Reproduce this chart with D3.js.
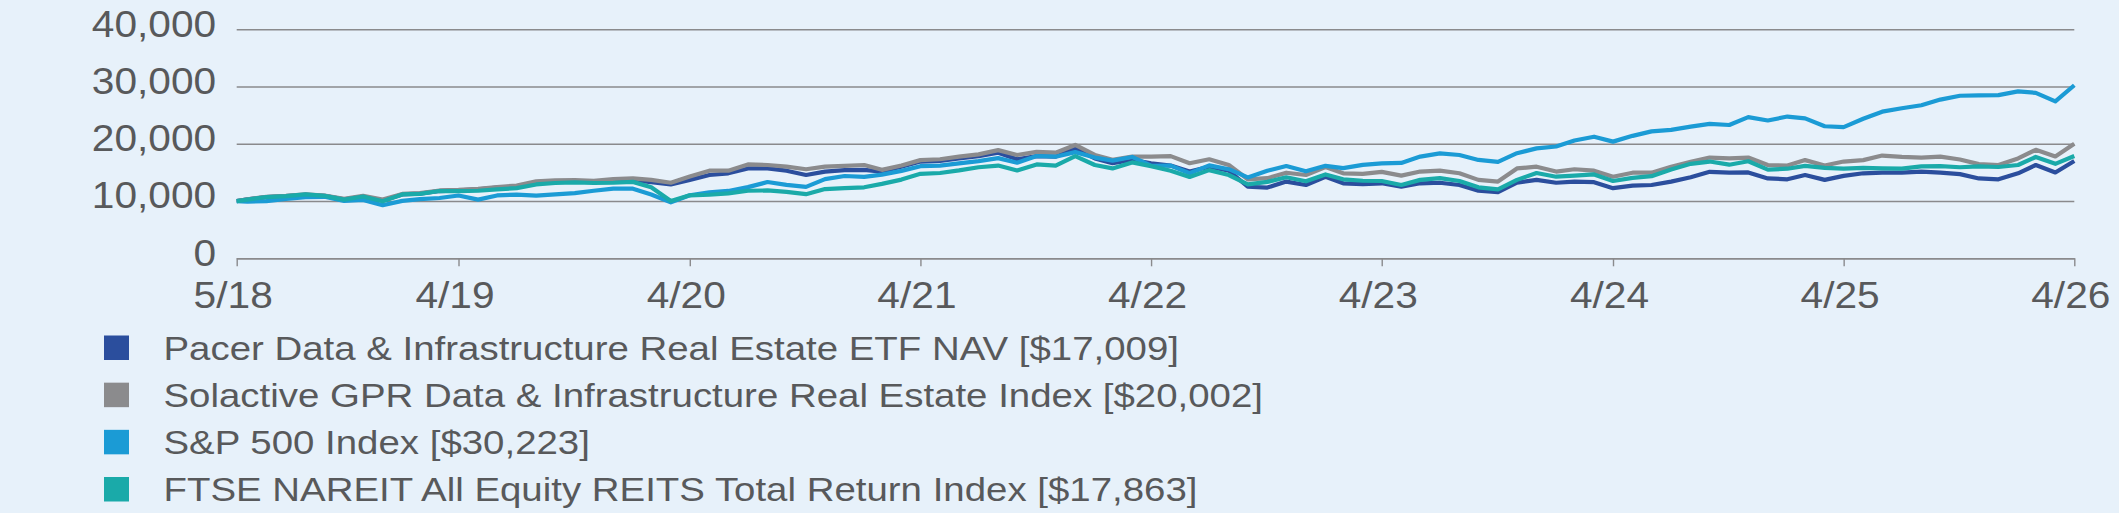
<!DOCTYPE html>
<html>
<head>
<meta charset="utf-8">
<script src="https://cdn.jsdelivr.net/npm/d3@7"></script>
<style>
  html, body { margin: 0; padding: 0; background: #e7f1fa; }
  svg { display: block; }
</style>
</head>
<body>
<script>
// ---------- DATA ----------
const dates = [
  "2018-05-14","2018-05-31","2018-06-30","2018-07-31","2018-08-31","2018-09-30","2018-10-31","2018-11-30","2018-12-31",
  "2019-01-31","2019-02-28","2019-03-31","2019-04-30","2019-05-31","2019-06-30","2019-07-31","2019-08-31","2019-09-30","2019-10-31","2019-11-30","2019-12-31",
  "2020-01-31","2020-02-29","2020-03-31","2020-04-30","2020-05-31","2020-06-30","2020-07-31","2020-08-31","2020-09-30","2020-10-31","2020-11-30","2020-12-31",
  "2021-01-31","2021-02-28","2021-03-31","2021-04-30","2021-05-31","2021-06-30","2021-07-31","2021-08-31","2021-09-30","2021-10-31","2021-11-30","2021-12-31",
  "2022-01-31","2022-02-28","2022-03-31","2022-04-30","2022-05-31","2022-06-30","2022-07-31","2022-08-31","2022-09-30","2022-10-31","2022-11-30","2022-12-31",
  "2023-01-31","2023-02-28","2023-03-31","2023-04-30","2023-05-31","2023-06-30","2023-07-31","2023-08-31","2023-09-30","2023-10-31","2023-11-30","2023-12-31",
  "2024-01-31","2024-02-29","2024-03-31","2024-04-30","2024-05-31","2024-06-30","2024-07-31","2024-08-31","2024-09-30","2024-10-31","2024-11-30","2024-12-31",
  "2025-01-31","2025-02-28","2025-03-31","2025-04-30","2025-05-31","2025-06-30","2025-07-31","2025-08-31","2025-09-30","2025-10-31","2025-11-30","2025-12-31",
  "2026-01-31","2026-02-28","2026-03-31","2026-04-30"
];

const pacerNav = [
  10000,10280,10700,10850,11100,10900,10300,10800,10100,
  11150,11300,11750,11850,12050,12350,12550,13300,13400,13450,13350,13600,
  13650,13300,12900,13700,14550,14850,15700,15700,15300,14550,15150,15400,
  15450,15150,16000,16900,17000,17450,17850,18450,17300,17850,17750,19200,
  17450,16600,17200,16600,16200,15150,16000,15300,12500,12350,13400,12800,
  14250,13100,12950,13100,12500,13100,13200,12800,11800,11550,13200,13700,
  13200,13400,13300,12250,12700,12800,13400,14150,15100,14950,15000,13950,
  13800,14550,13700,14400,14850,14950,14950,15150,14950,14700,13950,13800,
  14850,16300,15000,17009
];

const solactiveIndex = [
  10000,10300,10750,10900,11150,10950,10400,10900,10250,
  11250,11400,11850,11950,12150,12450,12700,13450,13600,13650,13550,13850,
  13950,13700,13200,14300,15300,15300,16400,16300,16000,15550,16000,16150,
  16300,15450,16200,17150,17300,17750,18150,18900,18050,18600,18450,19800,
  18050,17200,17750,17750,17850,16600,17300,16300,13800,14000,14950,14550,
  15950,14850,14750,15100,14450,15150,15300,14850,13700,13400,15700,16000,
  15150,15550,15300,14250,14950,14950,16000,16850,17600,17450,17600,16300,
  16200,17150,16200,16900,17150,17950,17700,17600,17750,17250,16450,16300,
  17450,18950,17800,20002
];

const sp500 = [
  10000,9916,9978,10352,10680,10740,10009,10202,9278,
  10023,10335,10535,10964,10256,10979,11139,10952,11155,11399,11804,12158,
  12155,11148,9767,11021,11536,11765,12429,13320,12814,12478,13838,14373,
  14232,14624,15266,16088,16200,16583,16984,17500,16691,17871,17747,18547,
  17597,17069,17704,16169,16193,14855,16231,15564,14130,15280,16124,15194,
  16155,15756,16331,16593,16657,17762,18339,18040,17186,16831,18357,19197,
  19529,20569,21236,20382,21389,22163,22444,22990,23488,23287,24657,24074,
  24758,24440,23067,22923,24366,25611,26204,26741,27724,28394,28471,28494,
  29150,28900,27400,30223
];

const ftseNareit = [
  10000,10250,10700,10850,11150,10900,10250,10800,9950,
  11150,11250,11750,11750,11800,12050,12250,12900,13150,13250,13150,13200,
  13350,12400,10000,11000,11100,11350,11800,11850,11600,11200,12100,12250,
  12400,13000,13750,14750,14900,15350,15900,16200,15350,16400,16200,17850,
  16300,15700,16750,16100,15300,14200,15400,14550,12900,13350,14150,13450,
  14650,13800,13550,13500,12800,13700,14000,13500,12400,12050,13700,14900,
  14250,14450,14650,13500,14050,14350,15500,16500,16900,16350,16950,15500,
  15650,16150,15800,15650,15800,15700,15650,16050,16100,15900,16050,15950,
  16300,17700,16500,17863
];

const seriesNames = [
  "Pacer Data & Infrastructure Real Estate ETF NAV [$17,009]",
  "Solactive GPR Data & Infrastructure Real Estate Index [$20,002]",
  "S&P 500 Index [$30,223]",
  "FTSE NAREIT All Equity REITS Total Return Index [$17,863]"
];
const seriesColors = ["#2b4e9d", "#8b8b8d", "#1b9bd5", "#1aaaa9"];

const yTicks = [0, 10000, 20000, 30000, 40000];
const xTickDates = ["2018-05-14","2019-04-30","2020-04-30","2021-04-30","2022-04-30","2023-04-30","2024-04-30","2025-04-30","2026-04-30"];
const xTickLabels = ["5/18","4/19","4/20","4/21","4/22","4/23","4/24","4/25","4/26"];

// ---------- LAYOUT ----------
const W = 2119, H = 513;
const plotLeft = 236.7, plotRight = 2074.3, plotTop = 29.3, plotBottom = 258.3;
const textColor = "#58595b";
const gridColor = "#8a8a8c";
const stretch = 1.13;
const font = "'Liberation Sans', Arial, Helvetica, sans-serif";

const parse = d3.utcParse("%Y-%m-%d");
const dateObjs = dates.map(parse);

const svg = d3.select("body").append("svg")
  .attr("width", W).attr("height", H)
  .style("font-family", font);

svg.append("rect").attr("width", W).attr("height", H).attr("fill", "#e7f1fa");

const x = d3.scaleUtc()
  .domain([parse(xTickDates[0]), parse(xTickDates[xTickDates.length - 1])])
  .range([plotLeft, plotRight]);
const y = d3.scaleLinear().domain([0, 40000]).range([plotBottom, plotTop]);

// y axis with gridlines
const yAxis = svg.append("g")
  .attr("transform", `translate(${plotLeft},0)`)
  .call(d3.axisLeft(y).tickValues(yTicks).tickSize(-(plotRight - plotLeft)).tickFormat(d3.format(",")));
yAxis.select(".domain").remove();
yAxis.selectAll(".tick line").attr("stroke", gridColor).attr("stroke-width", 1.6);
yAxis.selectAll(".tick text")
  .attr("x", null).attr("dy", null)
  .attr("fill", textColor)
  .attr("font-size", 36)
  .attr("font-family", font)
  .attr("text-anchor", "end")
  .attr("transform", `translate(-20.5,6.9) scale(${stretch},1)`);

// x axis
const xAxis = svg.append("g")
  .attr("transform", `translate(0,${plotBottom})`)
  .call(d3.axisBottom(x)
    .tickValues(xTickDates.map(parse))
    .tickSizeInner(8).tickSizeOuter(0)
    .tickFormat((d, i) => xTickLabels[i]));
xAxis.select(".domain").attr("stroke", gridColor).attr("stroke-width", 1.6);
xAxis.selectAll(".tick line").attr("stroke", gridColor).attr("stroke-width", 1.4);
xAxis.selectAll(".tick text")
  .attr("y", null).attr("dy", null)
  .attr("fill", textColor)
  .attr("font-size", 36)
  .attr("font-family", font)
  .attr("text-anchor", "middle")
  .attr("transform", `translate(-4,49.8) scale(${stretch},1)`);

// lines
const allSeries = [pacerNav, solactiveIndex, sp500, ftseNareit];
const line = d3.line()
  .x((d, i) => x(dateObjs[i]))
  .y(d => y(d));

svg.append("g").selectAll("path")
  .data(allSeries)
  .join("path")
  .attr("d", d => line(d))
  .attr("fill", "none")
  .attr("stroke", (d, i) => seriesColors[i])
  .attr("stroke-width", 4.2)
  .attr("stroke-linejoin", "round")
  .attr("stroke-linecap", "butt");

// legend
const legend = svg.append("g");
const rowY = d3.scaleLinear().domain([0, 3]).range([359.5, 501]);
seriesNames.forEach((name, i) => {
  legend.append("rect")
    .attr("x", 104).attr("y", rowY(i) - 24)
    .attr("width", 25).attr("height", 24.5)
    .attr("fill", seriesColors[i]);
  legend.append("text")
    .attr("transform", `translate(163.5,${rowY(i)}) scale(${stretch},1)`)
    .attr("font-size", 34)
    .attr("font-family", font)
    .attr("fill", textColor)
    .text(name);
});
</script>
</body>
</html>
